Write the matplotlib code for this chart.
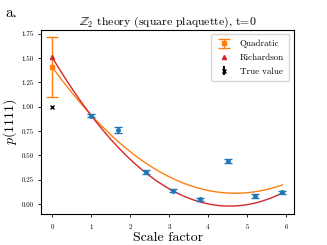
import numpy as np
import matplotlib
matplotlib.use("Agg")
import matplotlib.pyplot as plt

plt.rcParams['font.family'] = 'serif'
plt.rcParams['font.serif'] = ['cmr10', 'DejaVu Serif']
plt.rcParams['mathtext.fontset'] = 'cm'
plt.rcParams['axes.formatter.use_mathtext'] = True

# measured points
scale = [1.0, 1.7, 2.4, 3.1, 3.8, 4.5, 5.2, 5.9]
p1111 = [0.91, 0.76, 0.33, 0.14, 0.05, 0.445, 0.085, 0.12]
p_err = [0.015, 0.03, 0.02, 0.015, 0.015, 0.02, 0.02, 0.015]

# extrapolations at zero
quad_val, quad_err = 1.41, 0.31
rich_val = 1.51
true_val = 1.0

# fitted curve coefficients (c0 + c1 x + c2 x^2)
quad_coef = [1.41, -0.553, 0.0589]
rich_coef = [1.51, -0.6725, 0.0739]

fig = plt.figure(figsize=(3.27, 2.45), dpi=100)
ax = fig.add_axes([0.126, 0.127, 0.773, 0.751])

xs = np.linspace(0, 5.9, 200)
ax.plot(xs, np.polyval(quad_coef[::-1], xs), color='tab:orange', lw=1)
ax.plot(xs, np.polyval(rich_coef[::-1], xs), color='tab:red', lw=1)

ax.errorbar(scale, p1111, yerr=p_err, fmt='o', color='tab:blue', ms=2.5,
            capsize=3, elinewidth=1)
hq = ax.errorbar([0], [quad_val], yerr=[quad_err], fmt='s', color='tab:orange',
                 ms=3, capsize=4, elinewidth=1, label='Quadratic')
hr, = ax.plot([0], [rich_val], '^', color='tab:red', ms=3, label='Richardson')
ht = ax.errorbar([0], [true_val], yerr=[0.0], fmt='x', color='black', ms=3,
                 capsize=0, label='True value')

ax.set_xlim(-0.28, 6.2)
ax.set_ylim(-0.1, 1.79)
ax.set_xticks([0, 1, 2, 3, 4, 5, 6])
ax.set_yticks([0, 0.25, 0.5, 0.75, 1.0, 1.25, 1.5, 1.75])
ax.set_yticklabels(['0.00', '0.25', '0.50', '0.75', '1.00', '1.25', '1.50', '1.75'])
ax.tick_params(labelsize=5, length=2, width=0.6)
for s in ax.spines.values():
    s.set_linewidth(0.8)

ax.set_xlabel('Scale factor', fontsize=10, labelpad=1)
ax.set_ylabel(r'$p(1111)$', fontsize=10, labelpad=2)
ax.set_title(r'$\mathbb{Z}_2$ theory (square plaquette), t=0', fontsize=8.5, pad=3)
ax.legend([hq, hr, ht], ['Quadratic', 'Richardson', 'True value'],
          loc='upper right', fontsize=6.5, handlelength=1.8, borderpad=0.6,
          labelspacing=0.6)
fig.text(0.015, 0.93, 'a.', fontsize=11)

fig.savefig('out.png', dpi=100)
